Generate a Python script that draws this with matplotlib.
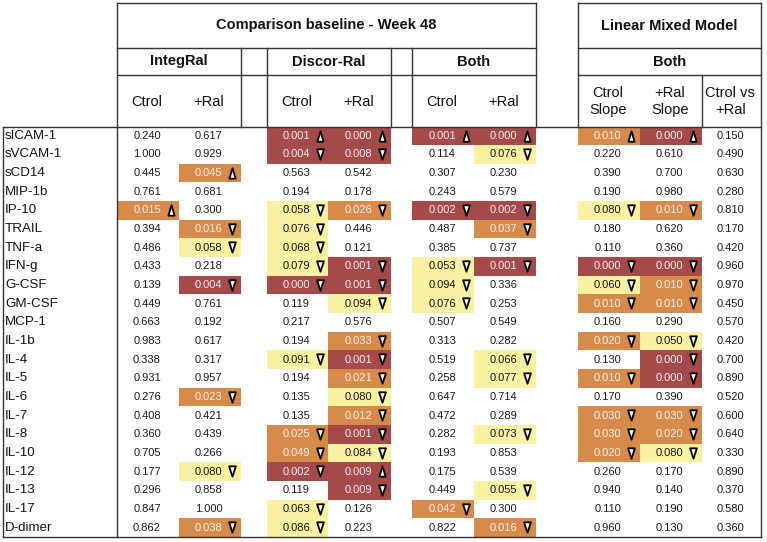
import matplotlib.pyplot as plt
from matplotlib.path import Path
from matplotlib.patches import Rectangle

plt.rcParams['font.family'] = ['Liberation Sans', 'DejaVu Sans']

# ---- data ----
markers = ["sICAM-1", "sVCAM-1", "sCD14", "MIP-1b", "IP-10", "TRAIL", "TNF-a",
           "IFN-g", "G-CSF", "GM-CSF", "MCP-1", "IL-1b", "IL-4", "IL-5", "IL-6",
           "IL-7", "IL-8", "IL-10", "IL-12", "IL-13", "IL-17", "D-dimer"]

integ_ctrol = [0.240, 1.000, 0.445, 0.761, 0.015, 0.394, 0.486, 0.433, 0.139, 0.449, 0.663,
               0.983, 0.338, 0.931, 0.276, 0.408, 0.360, 0.705, 0.177, 0.296, 0.847, 0.862]
integ_ral = [0.617, 0.929, 0.045, 0.681, 0.300, 0.016, 0.058, 0.218, 0.004, 0.761, 0.192,
             0.617, 0.317, 0.957, 0.023, 0.421, 0.439, 0.266, 0.080, 0.858, 1.000, 0.038]
discor_ctrol = [0.001, 0.004, 0.563, 0.194, 0.058, 0.076, 0.068, 0.079, 0.000, 0.119, 0.217,
                0.194, 0.091, 0.194, 0.135, 0.135, 0.025, 0.049, 0.002, 0.119, 0.063, 0.086]
discor_ral = [0.000, 0.008, 0.542, 0.178, 0.026, 0.446, 0.121, 0.001, 0.001, 0.094, 0.576,
              0.033, 0.001, 0.021, 0.080, 0.012, 0.001, 0.084, 0.009, 0.009, 0.126, 0.223]
both_ctrol = [0.001, 0.114, 0.307, 0.243, 0.002, 0.487, 0.385, 0.053, 0.094, 0.076, 0.507,
              0.313, 0.519, 0.258, 0.647, 0.472, 0.282, 0.193, 0.175, 0.449, 0.042, 0.822]
both_ral = [0.000, 0.076, 0.230, 0.579, 0.002, 0.037, 0.737, 0.001, 0.336, 0.253, 0.549,
            0.282, 0.066, 0.077, 0.714, 0.289, 0.073, 0.853, 0.539, 0.055, 0.300, 0.016]
lmm_ctrol = [0.010, 0.220, 0.390, 0.190, 0.080, 0.180, 0.110, 0.000, 0.060, 0.010, 0.160,
             0.020, 0.130, 0.010, 0.170, 0.030, 0.030, 0.020, 0.260, 0.940, 0.110, 0.960]
lmm_ral = [0.000, 0.610, 0.700, 0.980, 0.010, 0.620, 0.360, 0.000, 0.010, 0.010, 0.290,
           0.050, 0.000, 0.000, 0.390, 0.030, 0.020, 0.080, 0.170, 0.140, 0.190, 0.130]
lmm_diff = [0.150, 0.490, 0.630, 0.280, 0.810, 0.170, 0.420, 0.960, 0.970, 0.450, 0.570,
            0.420, 0.700, 0.890, 0.520, 0.600, 0.640, 0.330, 0.890, 0.370, 0.580, 0.360]

# direction of change per cell: u = up, d = down, . = none
dir_integ_ctrol = "....u................."
dir_integ_ral = "..u..dd.d.....d...d..d"
dir_discor_ctrol = "ud..ddddd...d...ddd.dd"
dir_discor_ral = "ud..d..ddd.dddddddud.."
dir_both_ctrol = "u...d..ddd..........d."
dir_both_ral = "ud..dd.d....dd..d..d.d"
dir_lmm_ctrol = "u...d..ddd.d.d.ddd...."
dir_lmm_ral = "u...d..ddd.ddd.ddd...."
dir_lmm_diff = "......................"

columns = [integ_ctrol, integ_ral, discor_ctrol, discor_ral, both_ctrol, both_ral,
           lmm_ctrol, lmm_ral, lmm_diff]
directions = [dir_integ_ctrol, dir_integ_ral, dir_discor_ctrol, dir_discor_ral,
              dir_both_ctrol, dir_both_ral, dir_lmm_ctrol, dir_lmm_ral, dir_lmm_diff]
sub_headers = ["Ctrol", "+Ral", "Ctrol", "+Ral", "Ctrol", "+Ral",
               "Ctrol\nSlope", "+Ral\nSlope", "Ctrol vs\n+Ral"]

# ---- layout (pixels) ----
W, H = 767, 542
col_left = [117, 179, 266.7, 328.3, 412.3, 474, 578, 639.7, 701.7]
col_w = [62, 61.7, 61.6, 62.4, 61.7, 61.7, 61.7, 62, 59.3]
y_top, y_h1, y_h2, y_h3, y_bot = 3, 48, 75, 126.5, 537
row_h = (y_bot - y_h3) / len(markers)

DARK, ORANGE, YELLOW = "#A44A4A", "#D68A4B", "#FBF1A3"
LINE = "#333333"


def cell_style(p):
    if p < 0.01:
        return DARK, "#F6EEEE"
    if p < 0.05:
        return ORANGE, "#FBF2EA"
    if p < 0.1:
        return YELLOW, "#111111"
    return None, "#1a1a1a"


tri_up = Path([(-0.3, -0.5), (0.3, -0.5), (0, 0.5), (-0.3, -0.5)],
              [Path.MOVETO, Path.LINETO, Path.LINETO, Path.CLOSEPOLY])
tri_down = Path([(-0.33, 0.5), (0.33, 0.5), (0, -0.5), (-0.33, 0.5)],
                [Path.MOVETO, Path.LINETO, Path.LINETO, Path.CLOSEPOLY])

fig = plt.figure(figsize=(W / 100, H / 100), dpi=100)
ax = fig.add_axes([0, 0, 1, 1])
ax.set_xlim(0, W)
ax.set_ylim(H, 0)
ax.axis("off")

# cells
for c, (vals, dirs) in enumerate(zip(columns, directions)):
    x0, w = col_left[c], col_w[c]
    for r, p in enumerate(vals):
        y0 = y_h3 + r * row_h
        bg, fg = cell_style(p)
        if bg is not None:
            ax.add_patch(Rectangle((x0, y0), w, row_h, facecolor=bg, edgecolor="none", zorder=1))
        yc = y0 + row_h / 2
        ax.text(x0 + w / 2 - 1, yc, f"{p:.3f}", ha="center", va="center",
                fontsize=8, color=fg, zorder=3)
        if dirs[r] != ".":
            ax.plot(x0 + w - 8.5, yc - 0.3, marker=tri_up if dirs[r] == "u" else tri_down,
                    markersize=7.5, markerfacecolor="white", markeredgecolor="black",
                    markeredgewidth=1.3, zorder=4)

# row labels
for r, name in enumerate(markers):
    ax.text(5, y_h3 + (r + 0.5) * row_h, name, ha="left", va="center",
            fontsize=9.6, color="#111111")

# header texts
ax.text((117 + 535.7) / 2, (y_top + y_h1) / 2, "Comparison baseline - Week 48",
        ha="center", va="center", fontsize=10.5, fontweight="bold", color="#111111")
ax.text((578 + 761) / 2, (y_top + y_h1) / 2, "Linear Mixed Model",
        ha="center", va="center", fontsize=10.5, fontweight="bold", color="#111111")
groups = [("IntegRal", 117, 240.7), ("Discor-Ral", 266.7, 390.7),
          ("Both", 412.3, 535.7), ("Both", 578, 761)]
for name, a, b in groups:
    ax.text((a + b) / 2, (y_h1 + y_h2) / 2, name, ha="center", va="center",
            fontsize=10.5, fontweight="bold", color="#111111")
for c, lab in enumerate(sub_headers):
    ax.text(col_left[c] + col_w[c] / 2 - 1, (y_h2 + y_h3) / 2 + 1, lab, ha="center",
            va="center", fontsize=10.5, color="#111111", linespacing=1.25)

# grid lines
def hline(y, a, b):
    ax.plot([a, b], [y, y], color=LINE, lw=1.0, solid_capstyle="projecting", zorder=5)


def vline(x, a, b):
    ax.plot([x, x], [a, b], color=LINE, lw=1.0, solid_capstyle="projecting", zorder=5)


for y in (y_top, y_h1, y_h2):
    hline(y, 117, 535.7)
    hline(y, 578, 761)
hline(y_h3, 3, 761)
hline(y_bot, 3, 761)
vline(3, y_h3, y_bot)
vline(117, y_top, y_bot)
vline(761, y_top, y_bot)
for x in (535.7, 578):
    vline(x, y_top, y_h3)
for x in (240.7, 266.7, 390.7, 412.3):
    vline(x, y_h1, y_h3)
vline(701.7, y_h2, y_h3)

fig.savefig("out.png", dpi=100)
